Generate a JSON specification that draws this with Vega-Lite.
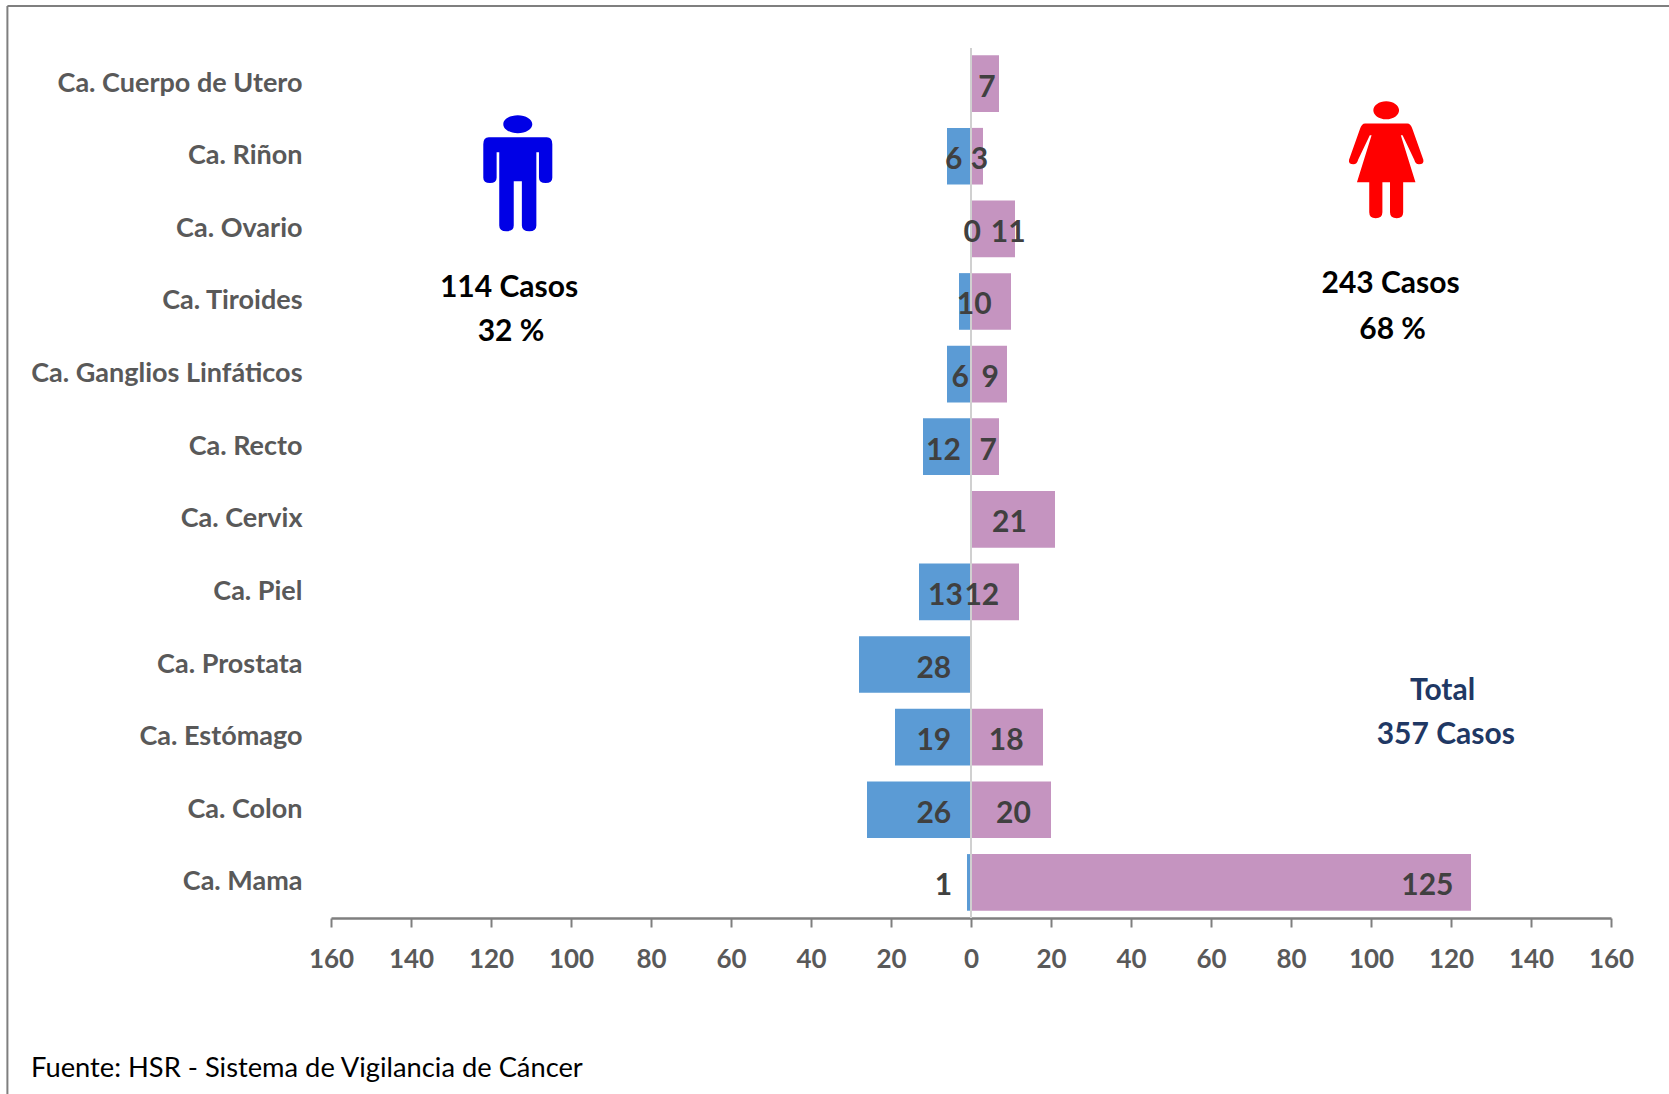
{
"$schema":"https://vega.github.io/schema/vega-lite/v6.json",
"width":1280,"height":870,
"autosize":{"type":"none"},
"padding":{"left":331,"top":48,"right":58,"bottom":176},
"background":"white",
"config":{"view":{"stroke":null},"font":"Lato"},
"data":{"values":[
{"cancer":"Ca. Cuerpo de Utero","sexo":"Mujeres","casos":7},
{"cancer":"Ca. Riñon","sexo":"Hombres","casos":6},
{"cancer":"Ca. Riñon","sexo":"Mujeres","casos":3},
{"cancer":"Ca. Ovario","sexo":"Hombres","casos":0},
{"cancer":"Ca. Ovario","sexo":"Mujeres","casos":11},
{"cancer":"Ca. Tiroides","sexo":"Hombres","casos":3},
{"cancer":"Ca. Tiroides","sexo":"Mujeres","casos":10},
{"cancer":"Ca. Ganglios Linfáticos","sexo":"Hombres","casos":6},
{"cancer":"Ca. Ganglios Linfáticos","sexo":"Mujeres","casos":9},
{"cancer":"Ca. Recto","sexo":"Hombres","casos":12},
{"cancer":"Ca. Recto","sexo":"Mujeres","casos":7},
{"cancer":"Ca. Cervix","sexo":"Mujeres","casos":21},
{"cancer":"Ca. Piel","sexo":"Hombres","casos":13},
{"cancer":"Ca. Piel","sexo":"Mujeres","casos":12},
{"cancer":"Ca. Prostata","sexo":"Hombres","casos":28},
{"cancer":"Ca. Estómago","sexo":"Hombres","casos":19},
{"cancer":"Ca. Estómago","sexo":"Mujeres","casos":18},
{"cancer":"Ca. Colon","sexo":"Hombres","casos":26},
{"cancer":"Ca. Colon","sexo":"Mujeres","casos":20},
{"cancer":"Ca. Mama","sexo":"Hombres","casos":1},
{"cancer":"Ca. Mama","sexo":"Mujeres","casos":125}
]},
"encoding":{
"y":{"type":"nominal","field":"cancer","title":null,
"scale":{"domain":["Ca. Cuerpo de Utero","Ca. Riñon","Ca. Ovario","Ca. Tiroides","Ca. Ganglios Linfáticos","Ca. Recto","Ca. Cervix","Ca. Piel","Ca. Prostata","Ca. Estómago","Ca. Colon","Ca. Mama"],"paddingInner":0.22,"paddingOuter":0.1},
"axis":{"domain":false,"ticks":false,"grid":false,"labelFont":"Lato","labelFontWeight":"bold","labelFontSize":27,"labelColor":"#595959","labelPadding":29,"labelLimit":400}}
},
"layer":[
{"transform":[{"calculate":"datum.sexo=='Hombres' ? -datum.casos : datum.casos","as":"valor"}],
"mark":{"type":"bar"},
"encoding":{
"x":{"field":"valor","type":"quantitative","title":null,"scale":{"domain":[-160,160],"nice":false},
"axis":{"values":[-160,-140,-120,-100,-80,-60,-40,-20,0,20,40,60,80,100,120,140,160],"labelExpr":"abs(datum.value)","grid":false,"domainColor":"#7f7f7f","domainWidth":2.5,"tickColor":"#7f7f7f","tickWidth":2,"tickSize":9,"labelFont":"Lato","labelFontWeight":"bold","labelFontSize":26,"labelColor":"#595959","labelPadding":19,"labelFlush":false,"labelOverlap":false}},
"color":{"field":"sexo","type":"nominal","legend":null,"scale":{"domain":["Hombres","Mujeres"],"range":["#5B9BD5","#C594C0"]}}
}},
{"data":{"values":[{"n":1}]},"mark":{"type":"rule","color":"#D0D0D0","strokeWidth":2},"encoding":{"x":{"datum":0,"type":"quantitative"},"y":null}},
{"transform":[
{"calculate":"(datum.sexo=='Hombres' ? {'Ca. Riñon':-4.3,'Ca. Ovario':0.3,'Ca. Ganglios Linfáticos':-2.7,'Ca. Recto':-6.9,'Ca. Piel':-6.4,'Ca. Prostata':-9.3,'Ca. Estómago':-9.3,'Ca. Colon':-9.3,'Ca. Mama':-6.9} : {'Ca. Cuerpo de Utero':4,'Ca. Riñon':2.1,'Ca. Ovario':9.3,'Ca. Tiroides':0.8,'Ca. Ganglios Linfáticos':4.8,'Ca. Recto':4.3,'Ca. Cervix':9.6,'Ca. Piel':2.7,'Ca. Estómago':8.8,'Ca. Colon':10.6,'Ca. Mama':114.1})[datum.cancer]","as":"etiqueta"},
{"filter":"isValid(datum.etiqueta)"}],
"mark":{"type":"text","font":"Lato","fontWeight":"bold","fontSize":30,"color":"#404040","baseline":"middle","dy":4},
"encoding":{"x":{"field":"etiqueta","type":"quantitative"},"text":{"field":"casos","type":"quantitative"}}},
{"data":{"values":[{"nota":"hombre"}]},"mark":{"type":"point","filled":true,"color":"#0000E6","opacity":1,"size":13456,"yOffset":17,"shape":"M-.25,-.845 A.25,.155 0 1,1 .25,-.845 A.25,.155 0 1,1 -.25,-.845 Z M-.5,-.62 L.5,-.62 Q.595,-.62 .595,-.5 L.595,.08 Q.595,.17 .48,.17 Q.365,.17 .365,.08 L.365,-.36 L.32,-.36 L.32,.9 Q.32,1 .2,1 Q.07,1 .07,.9 L.07,.14 L-.07,.14 L-.07,.9 Q-.07,1 -.2,1 Q-.32,1 -.32,.9 L-.32,-.36 L-.365,-.36 L-.365,.08 Q-.365,.17 -.48,.17 Q-.595,.17 -.595,.08 L-.595,-.5 Q-.595,-.62 -.5,-.62 Z"},
"encoding":{"x":{"datum":-113.3,"type":"quantitative"},"y":{"datum":"Ca. Riñon","type":"nominal"}}},
{"data":{"values":[{"nota":"mujer"}]},"mark":{"type":"point","filled":true,"color":"#FF0000","opacity":1,"size":13689,"yOffset":3.5,"shape":"M-.22,-.845 A.22,.155 0 1,1 .22,-.845 A.22,.155 0 1,1 -.22,-.845 Z M-.36,-.62 L.36,-.62 Q.42,-.62 .45,-.52 L.635,0 Q.65,.077 .56,.077 Q.5,.077 .48,0 L.28,-.42 L.25,-.42 L.5,.385 L.29,.385 L.29,.9 Q.29,1 .18,1 Q.065,1 .065,.9 L.065,.385 L-.065,.385 L-.065,.9 Q-.065,1 -.18,1 Q-.29,1 -.29,.9 L-.29,.385 L-.5,.385 L-.25,-.42 L-.28,-.42 L-.48,0 Q-.5,.077 -.56,.077 Q-.65,.077 -.635,0 L-.45,-.52 Q-.42,-.62 -.36,-.62 Z"},
"encoding":{"x":{"datum":103.8,"type":"quantitative"},"y":{"datum":"Ca. Riñon","type":"nominal"}}},
{"data":{"values":[{"nota":"114 Casos"}]},"mark":{"type":"text","fontWeight":"bold","fontSize":30,"color":"#000000","baseline":"middle","dy":-13},"encoding":{"x":{"datum":-115.5,"type":"quantitative"},"y":{"datum":"Ca. Tiroides","type":"nominal"},"text":{"field":"nota"}}},
{"data":{"values":[{"nota":"32 %"}]},"mark":{"type":"text","fontWeight":"bold","fontSize":30,"color":"#000000","baseline":"middle","dy":31},"encoding":{"x":{"datum":-115,"type":"quantitative"},"y":{"datum":"Ca. Tiroides","type":"nominal"},"text":{"field":"nota"}}},
{"data":{"values":[{"nota":"243 Casos"}]},"mark":{"type":"text","fontWeight":"bold","fontSize":30,"color":"#000000","baseline":"middle","dy":-17},"encoding":{"x":{"datum":104.9,"type":"quantitative"},"y":{"datum":"Ca. Tiroides","type":"nominal"},"text":{"field":"nota"}}},
{"data":{"values":[{"nota":"68 %"}]},"mark":{"type":"text","fontWeight":"bold","fontSize":30,"color":"#000000","baseline":"middle","dy":29},"encoding":{"x":{"datum":105.4,"type":"quantitative"},"y":{"datum":"Ca. Tiroides","type":"nominal"},"text":{"field":"nota"}}},
{"data":{"values":[{"nota":"Total"}]},"mark":{"type":"text","fontWeight":"bold","fontSize":30,"color":"#1F3864","baseline":"middle","dy":26},"encoding":{"x":{"datum":117.9,"type":"quantitative"},"y":{"datum":"Ca. Prostata","type":"nominal"},"text":{"field":"nota"}}},
{"data":{"values":[{"nota":"357 Casos"}]},"mark":{"type":"text","fontWeight":"bold","fontSize":30,"color":"#1F3864","baseline":"middle","dy":-2},"encoding":{"x":{"datum":118.7,"type":"quantitative"},"y":{"datum":"Ca. Estómago","type":"nominal"},"text":{"field":"nota"}}},
{"data":{"values":[{"nota":"Fuente: HSR - Sistema de Vigilancia de Cáncer"}]},"mark":{"type":"text","fontSize":27.3,"color":"#000000","baseline":"middle","align":"left","dy":187},"encoding":{"x":{"datum":-235,"type":"quantitative"},"y":{"datum":"Ca. Mama","type":"nominal"},"text":{"field":"nota"}}},
{"data":{"values":[{"nota":"marco"}]},"mark":{"type":"rule","color":"#7f7f7f","strokeWidth":2,"yOffset":-77.6,"y2Offset":300},"encoding":{"x":{"datum":-240.9,"type":"quantitative"},"y":{"datum":"Ca. Cuerpo de Utero","type":"nominal"},"y2":{"datum":"Ca. Mama"}}},
{"data":{"values":[{"nota":"marco"}]},"mark":{"type":"rule","color":"#7f7f7f","strokeWidth":2,"yOffset":-77.6},"encoding":{"x":{"datum":-240.9,"type":"quantitative"},"x2":{"datum":200},"y":{"datum":"Ca. Cuerpo de Utero","type":"nominal"}}}
]
}
